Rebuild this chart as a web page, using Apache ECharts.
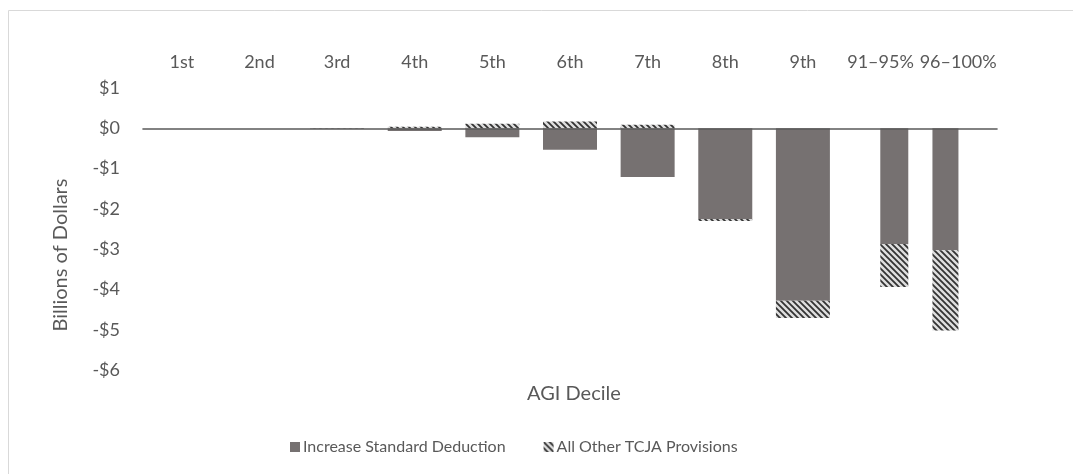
<!DOCTYPE html>
<html>
<head>
<meta charset="utf-8">
<title>AGI Decile</title>
<script src="https://cdn.jsdelivr.net/npm/echarts@6/dist/echarts.min.js"></script>
<style>
	html, body { margin: 0; padding: 0; background: #fff; }
	#main { width: 1073px; height: 474px; }
</style>
</head>
<body>
<div id="main"></div>
<script>
var deciles = ['1st', '2nd', '3rd', '4th', '5th', '6th', '7th', '8th', '9th', '91–95%', '96–100%'];
var standardDeduction = [0, 0, -0.01, -0.07, -0.22, -0.53, -1.21, -2.25, -4.28, -2.87, -3.03]; //Increase Standard Deduction
var otherProvisions = [0, 0, 0.01, 0.04, 0.11, 0.17, 0.09, -0.05, -0.43, -1.07, -1.99]; //All Other TCJA Provisions
var yTicks = [-6, -5, -4, -3, -2, -1, 0, 1];

var textColor = '#595959';
var font = 'Lato';
var darkGrey = '#767171';

// diagonal hatch pattern
function hatch() {
	var c = document.createElement('canvas');
	c.width = 6;
	c.height = 6;
	var ctx = c.getContext('2d');
	ctx.fillStyle = '#dedede';
	ctx.fillRect(0, 0, 6, 6);
	ctx.strokeStyle = '#333';
	ctx.lineWidth = 1.8;
	ctx.beginPath();
	ctx.moveTo(-1, -1); ctx.lineTo(7, 7);
	ctx.moveTo(-4, 2); ctx.lineTo(4, 10);
	ctx.moveTo(2, -4); ctx.lineTo(10, 4);
	ctx.stroke();
	return { image: c, repeat: 'repeat' };
}
var hatchFill = hatch();

// split deciles 1-9 from the top two groups
function pick(arr, keep) {
	return arr.map(function (v, i) { return keep(i) ? v : null; });
}
var first9 = function (i) { return i < 9; };
var top91 = function (i) { return i == 9; };
var top96 = function (i) { return i == 10; };

function barSeries(name, data, axis, stack, width, color) {
	return {
		name: name,
		type: 'bar',
		xAxisIndex: axis,
		stack: stack,
		barWidth: width,
		barGap: '-191%',
		data: data,
		itemStyle: { color: color },
		emphasis: { disabled: true }
	};
}

var chart = echarts.init(document.getElementById('main'), null, { renderer: 'canvas' });
chart.setOption({
	animation: false,
	textStyle: { fontFamily: font },
	grid: { left: 143, right: 76, top: 88, bottom: 104 },
	title: {
		text: 'AGI Decile',
		left: 522,
		top: 379,
		textStyle: { fontFamily: font, fontSize: 20, fontWeight: 'normal', color: textColor }
	},
	legend: {
		left: 285,
		top: 434,
		itemWidth: 10,
		itemHeight: 10,
		itemGap: 38,
		icon: 'rect',
		data: ['Increase Standard Deduction', 'All Other TCJA Provisions'],
		textStyle: { fontFamily: font, fontSize: 16, color: textColor, padding: [0, 0, 0, -2] }
	},
	graphic: [{
		type: 'rect',
		shape: { x: 8.5, y: 10.5, width: 1100, height: 500 },
		style: { fill: 'none', stroke: '#d9d9d9', lineWidth: 1 },
		silent: true
	}],
	xAxis: [{
		type: 'category',
		position: 'top',
		data: deciles,
		axisLine: { show: false, onZero: false },
		axisTick: { show: false },
		axisLabel: { interval: 0, margin: 17, color: textColor, fontSize: 18, fontFamily: font }
	}, {
		type: 'category',
		position: 'bottom',
		data: deciles,
		z: 10,
		axisLine: { show: true, onZero: true, lineStyle: { color: textColor, width: 1.6 } },
		axisTick: { show: false },
		axisLabel: { show: false }
	}],
	yAxis: {
		type: 'value',
		min: yTicks[0],
		max: yTicks[yTicks.length - 1],
		interval: 1,
		name: 'Billions of Dollars',
		nameLocation: 'middle',
		nameRotate: 90,
		nameGap: 72,
		nameTextStyle: { fontFamily: font, fontSize: 20, color: textColor, padding: [0, 52, 0, 0] },
		axisLine: { show: false },
		axisTick: { show: false },
		splitLine: { show: false },
		axisLabel: {
			margin: 23,
			color: textColor,
			fontSize: 18,
			fontFamily: font,
			formatter: function (v) { return v < 0 ? '-$' + Math.abs(v) : '$' + v; }
		}
	},
	series: [
		barSeries('Increase Standard Deduction', pick(standardDeduction, first9), 0, 'a', 54, darkGrey),
		barSeries('All Other TCJA Provisions', pick(otherProvisions, first9), 0, 'a', 54, hatchFill),
		barSeries('Increase Standard Deduction', pick(standardDeduction, top91), 1, 'p', 28, darkGrey),
		barSeries('All Other TCJA Provisions', pick(otherProvisions, top91), 1, 'p', 28, hatchFill),
		barSeries('Increase Standard Deduction', pick(standardDeduction, top96), 1, 'q', 26, darkGrey),
		barSeries('All Other TCJA Provisions', pick(otherProvisions, top96), 1, 'q', 26, hatchFill)
	]
});
</script>
</body>
</html>
